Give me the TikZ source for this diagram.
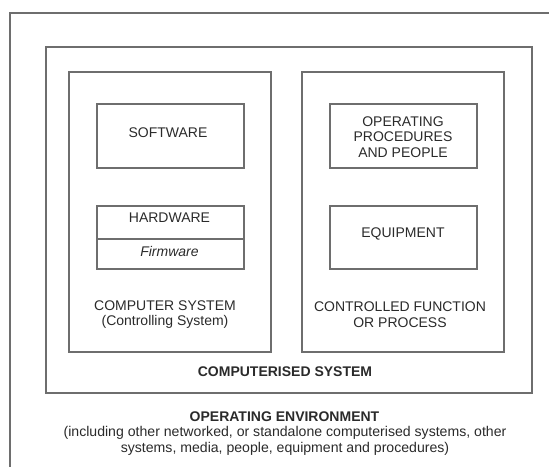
\documentclass[tikz,border=0pt]{standalone}
\usepackage{fontspec}
\setmainfont{Liberation Sans}
\definecolor{linegray}{HTML}{6E6E6E}
\definecolor{textgray}{HTML}{2A2A2A}
\begin{document}
\begin{tikzpicture}[x=1pt,y=-1pt,
  box/.style={draw=linegray, line width=1.2pt, inner sep=0pt, outer sep=0pt},
  lbl/.style={font=\fontsize{14}{15.5}\selectfont, text=textgray, align=center, inner sep=0pt},
  blbl/.style={lbl, font=\fontsize{14}{15.5}\selectfont\bfseries},
  env/.style={lbl, font=\fontsize{14.1}{16}\selectfont}]
\useasboundingbox (0,0) rectangle (549,467);
% operating environment (open frame)
\coordinate (envtr) at (549,13);
\coordinate (envtl) at (10,13);
\coordinate (envbl) at (10,467);
\draw[linegray, line width=1.5pt] (envtr) -- (envtl) -- (envbl);
% boxes
\node[box, minimum width=486pt, minimum height=346pt] (csys) at (289,220) {};
\node[box, minimum width=202pt, minimum height=280pt] (comp) at (170,212) {};
\node[box, minimum width=202pt, minimum height=280pt] (ctrl) at (403,212) {};
\node[box, minimum width=147pt, minimum height=64pt] (sw) at (170.5,136) {};
\node[box, minimum width=147pt, minimum height=33pt] (hw) at (170.5,222.5) {};
\node[box, minimum width=147pt, minimum height=30pt] (fw) at (170.5,254) {};
\node[box, minimum width=147pt, minimum height=64pt] (op) at (403.5,136) {};
\node[box, minimum width=147pt, minimum height=63pt] (eq) at (403.5,237.5) {};
% labels
\node[lbl] (swt) at (168,133) {SOFTWARE};
\node[lbl] (hwt) at (169.5,218) {HARDWARE};
\node[lbl] (fwt) at (169.5,251) {\itshape Firmware};
\node[lbl] (compt) at (165,314.5) {COMPUTER SYSTEM\\(Controlling System)};
\node[lbl] (opt) at (403,137) {OPERATING\\PROCEDURES\\AND PEOPLE};
\node[lbl] (eqt) at (403,234) {EQUIPMENT};
\node[lbl] (ctrlt) at (400,314.5) {CONTROLLED FUNCTION\\OR PROCESS};
\node[blbl] (csyst) at (285,372) {COMPUTERISED SYSTEM};
\node[blbl] (envt) at (284.5,417) {OPERATING ENVIRONMENT};
\node[env] (envd) at (285,441) {(including other networked, or standalone computerised systems, other\\systems, media, people, equipment and procedures)};
\end{tikzpicture}
\end{document}
